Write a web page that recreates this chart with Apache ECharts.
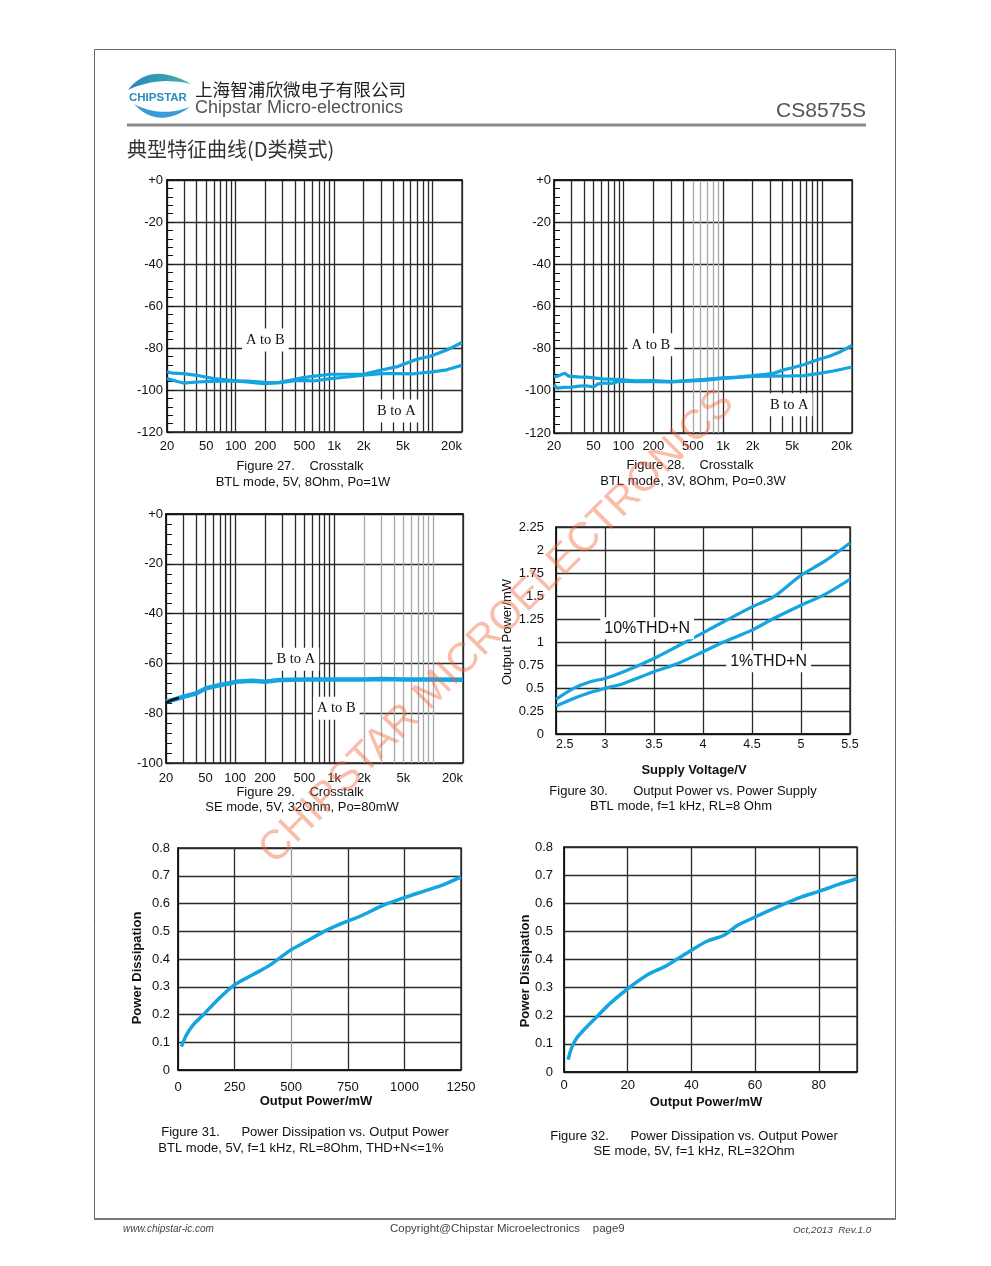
<!DOCTYPE html>
<html>
<head>
<meta charset="utf-8">
<script src="https://cdn.jsdelivr.net/npm/echarts@6/dist/echarts.min.js"></script>
<style>
html,body{margin:0;padding:0;background:#fff;}
#page{width:991px;height:1266px;}
</style>
</head>
<body>
<div id="page"></div>
<script>
// ---------- tick values ----------
const freqGrid = [20,30,40,50,60,70,80,90,100,200,300,400,500,600,700,800,900,1000,2000,3000,4000,5000,6000,7000,8000,9000,10000,20000];
const freqLabels = [20,50,100,200,500,1000,2000,5000,20000];

// ---------- Figure 27: Crosstalk, BTL 5V 8Ohm Po=1W ----------
const f27AtoB_f  = [20,23,29.5,40,60,88,130,192,262,357,485,666,915,1360,2000,2950,4300,6440,7500,9520,14000,20000];
const f27AtoB_db = [-91.4,-92,-92.2,-93,-94.6,-95.4,-96.2,-97,-96.6,-95.4,-94.1,-93.3,-92.5,-92.5,-92.5,-90.6,-89,-85.9,-85,-83.9,-81,-77.4];
const f27BtoA_f  = [20,25,29.5,40,60,88,130,200,283,420,620,915,1360,2000,3000,4300,6400,8000,9500,14000,20000];
const f27BtoA_db = [-94.6,-95.8,-96.7,-96.2,-95.9,-95.7,-95.8,-96.3,-96.5,-95.4,-95.7,-94.6,-93.8,-92.9,-92.2,-92.2,-92.3,-91.8,-91.5,-90.4,-88.2];

// ---------- Figure 28: Crosstalk, BTL 3V 8Ohm Po=0.3W ----------
const f28AtoB_f  = [20,22,25.6,28,35,42,62.5,92,130,200,300,437,650,935,1400,2000,2700,3300,4000,4900,6500,9000,12000,15500,20000];
const f28AtoB_db = [-93.2,-93,-91.6,-93,-93.4,-93.5,-94.3,-94.7,-95.3,-95.2,-95.6,-95.2,-94.6,-94,-93.5,-92.8,-92.2,-91.6,-90.2,-89.2,-87.6,-85.3,-83.5,-81.3,-78.5];
const f28BtoA_f  = [20,21.5,25,30,36,42,50,55,62.5,75,92,130,200,300,437,650,935,1400,2000,3000,4900,6500,9000,13000,20000];
const f28BtoA_db = [-97.1,-98.7,-98.4,-98.2,-97.8,-97.6,-98.2,-96.8,-96.3,-96.5,-95.4,-95.6,-95.6,-95.8,-95.4,-95,-94.2,-93.6,-93.2,-93,-92.9,-92.8,-91.8,-90.6,-88.7];

// ---------- Figure 29: Crosstalk, SE 5V 32Ohm Po=80mW ----------
const f29BtoA_f  = [20,25,30,40,51,65,88,100,150,200,280,500,1000,2000,3000,4000,5000,10000,20000];
const f29BtoA_db = [-75.4,-74.4,-73.4,-72.1,-70,-69,-68,-67.4,-67,-67.4,-66.7,-66.5,-66.5,-66.5,-66.3,-66.4,-66.5,-66.5,-66.6];
const f29AtoB_f  = [20,23,27];
const f29AtoB_db = [-75.8,-74.7,-73.8];

// ---------- Figure 30: Output Power vs Supply ----------
const f30Volt10 = [2.5,2.68,2.85,3.0,3.19,3.5,3.73,4.0,4.21,4.5,4.72,5.0,5.23,5.5];
const f30Thd10  = [0.376,0.496,0.568,0.604,0.677,0.821,0.948,1.10,1.22,1.382,1.49,1.726,1.87,2.077];
const f30Volt1  = [2.5,2.68,2.82,3.0,3.19,3.5,3.73,4.0,4.21,4.5,4.72,5.0,5.23,5.5];
const f30Thd1   = [0.304,0.387,0.441,0.496,0.55,0.677,0.76,0.894,1.0,1.129,1.255,1.40,1.509,1.682];

// ---------- Figure 31: Power Dissipation vs Output Power (BTL) ----------
const f31Pout = [15,37,66,111,170,248,332,406,497,568,657,747,804,908,996,1100,1173,1250];
const f31Pd   = [0.084,0.126,0.162,0.198,0.249,0.306,0.344,0.378,0.432,0.464,0.504,0.536,0.554,0.594,0.62,0.648,0.668,0.696];

// ---------- Figure 32: Power Dissipation vs Output Power (SE) ----------
const f32Pout = [1.3,2.3,3.9,7.1,10.7,14.4,20,26,32.3,40,44.9,50.2,54.4,60,67,74.4,80,86,91.8];
const f32Pd   = [0.044,0.083,0.119,0.16,0.201,0.243,0.296,0.344,0.379,0.433,0.465,0.486,0.521,0.551,0.587,0.622,0.642,0.666,0.687];

// ---------- styling ----------
const SANS = '"Liberation Sans", Arial, sans-serif';
const SERIF = '"Liberation Serif", "Times New Roman", serif';
const CJK = '"Noto Sans CJK SC", sans-serif';
const BLUE = '#14a4df';
const GC = '#2a2a2a';
const LIGHT = '#a8a8a8';

function pairs(xs, ys){ return xs.map((x,i)=>[x, ys[i]]); }
function fmtFreq(v){ const r = Math.round(v); return r >= 1000 ? (r/1000)+'k' : String(r); }
function plain(v){ return String(v); }

function gridColors(lightIdx){
  return freqGrid.map((f,i)=> lightIdx.indexOf(i) >= 0 ? LIGHT : GC);
}

function logX(gi, colors, margin){
  return {
    type:'log', logBase:10, gridIndex:gi, min:20, max:20000,
    axisLine:{show:true, lineStyle:{color:'#111', width:1.5}},
    axisTick:{show:false, customValues:freqGrid},
    minorTick:{show:false}, minorSplitLine:{show:false},
    axisLabel:{customValues:freqLabels, formatter:fmtFreq, margin:margin, color:'#111',
      fontSize:13, fontFamily:SANS, alignMaxLabel:'right'},
    splitLine:{show:true, lineStyle:{color:colors, width:1.3}}
  };
}
function dbY(gi, min, margin){
  return {
    type:'value', gridIndex:gi, min:min, max:0, interval:20,
    axisLine:{show:true, lineStyle:{color:'#111', width:1.5}},
    axisTick:{show:true, inside:true, length:6, lineStyle:{color:'#111', width:1}},
    minorTick:{show:true, splitNumber:5, length:6, lineStyle:{color:'#111', width:1}},
    axisLabel:{formatter:(v)=> v===0 ? '+0' : String(v), margin:margin, color:'#111', fontSize:13, fontFamily:SANS},
    splitLine:{show:true, lineStyle:{color:GC, width:1.3}}
  };
}
function valAxis(gi, min, max, interval, margin, extra){
  return Object.assign({
    type:'value', gridIndex:gi, min:min, max:max, interval:interval,
    axisLine:{show:true, lineStyle:{color:'#111', width:1.5}},
    axisTick:{show:false},
    axisLabel:{margin:margin, color:'#111', fontSize:13, fontFamily:SANS, formatter:plain},
    splitLine:{show:true, lineStyle:{color:GC, width:1.3}}
  }, extra || {});
}
function tag(text, coord, serif){
  return {
    coord: coord, symbol:'rect', symbolSize:1, itemStyle:{color:'rgba(0,0,0,0)'},
    label:{show:true, position:'inside', formatter:text, color:'#111',
      fontFamily: serif ? SERIF : SANS, fontSize: serif ? 14.5 : 16,
      backgroundColor:'#fff', padding: serif ? [4,4] : [3,4]}
  };
}
function line(xi, data, color, width, smooth, marks){
  const s = {
    type:'line', xAxisIndex:xi, yAxisIndex:xi, data:data, showSymbol:false, symbol:'none',
    smooth: smooth, lineStyle:{color:color, width:width}, itemStyle:{color:color}, z:3
  };
  if (marks) s.markPoint = {data:marks, silent:true, z:4};
  return s;
}

const option = {
  animation:false,
  backgroundColor:'#fff',
  grid:[
    {left:167, top:180, width:295, height:252},
    {left:554, top:180, width:298, height:253},
    {left:166, top:514, width:297, height:249},
    {left:556, top:527, width:294, height:207},
    {left:178, top:848, width:283, height:222},
    {left:564, top:847, width:293, height:225}
  ].map(g => Object.assign({show:true, borderColor:'#1a1a1a', borderWidth:1.3, backgroundColor:'transparent', containLabel:false}, g)),
  xAxis:[
    logX(0, gridColors([]), 8),
    logX(1, gridColors([12,13,14,15,16]), 7),
    logX(2, gridColors([18,19,20,21,22,23,24,25,26]), 9),
    valAxis(3, 2.5, 5.5, 0.5, 4, {axisLabel:{margin:4, color:'#111', fontSize:12.5, fontFamily:SANS, formatter:plain, alignMinLabel:'left'}}),
    valAxis(4, 0, 1250, 250, 11, {splitLine:{show:true, lineStyle:{color:[GC,GC,'#9a9a9a',GC,GC,GC], width:1.3}}}),
    valAxis(5, 0, 92, 20, 7, {axisLabel:{margin:7, color:'#111', fontSize:13, fontFamily:SANS, formatter:plain, showMaxLabel:false}})
  ],
  yAxis:[
    dbY(0, -120, 4),
    dbY(1, -120, 3),
    dbY(2, -100, 3),
    valAxis(3, 0, 2.25, 0.25, 12),
    valAxis(4, 0, 0.8, 0.1, 8),
    valAxis(5, 0, 0.8, 0.1, 11)
  ],
  series:[
    line(0, pairs(f27AtoB_f, f27AtoB_db), BLUE, 3.2, false, [tag('A to B', [200, -76.2], true)]),
    line(0, pairs(f27BtoA_f, f27BtoA_db), BLUE, 3.2, false, [tag('B to A', [4300, -110], true)]),
    line(1, pairs(f28AtoB_f, f28AtoB_db), BLUE, 3.2, false, [tag('A to B', [189, -78.2], true)]),
    line(1, pairs(f28BtoA_f, f28BtoA_db), BLUE, 3.2, false, [tag('B to A', [4670, -106.6], true)]),
    line(2, pairs(f29BtoA_f, f29BtoA_db), BLUE, 4.5, false, [tag('B to A', [410, -58.3], true), tag('A to B', [1050, -78], true)]),
    Object.assign(line(2, pairs(f29AtoB_f, f29AtoB_db), '#111', 2.5, false), {z:5}),
    line(3, pairs(f30Volt10, f30Thd10), BLUE, 3.2, 0.3, [tag('10%THD+N', [3.43, 1.15], false)]),
    line(3, pairs(f30Volt1, f30Thd1), BLUE, 3.2, 0.3, [tag('1%THD+N', [4.67, 0.79], false)]),
    line(4, pairs(f31Pout, f31Pd), BLUE, 3.5, 0.3),
    line(5, pairs(f32Pout, f32Pd), BLUE, 3.5, 0.3)
  ],
  graphic:{elements:[]}
};

// ---------- page furniture ----------
const G = option.graphic.elements;
function txt(text, x, y, o){
  o = o || {};
  G.push({
    type:'text', x:x, y:y, rotation:o.rotation || 0, z:o.z || 10, silent:true,
    style:{text:text, fill:o.fill || '#111', fontSize:o.size || 13, fontFamily:o.family || SANS,
      fontWeight:o.weight || 'normal', fontStyle:o.style || 'normal',
      align:o.align || 'center', verticalAlign:'middle',
      textAlign:o.align || 'center', textVerticalAlign:'middle'}
  });
}
// crescent outline from two quadratic curves (logo decoration)
function crescent(p0, c1, p1, c2){
  const pts = [];
  const N = 16;
  for (let i=0;i<=N;i++){ const t=i/N, u=1-t;
    pts.push([u*u*p0[0]+2*u*t*c1[0]+t*t*p1[0], u*u*p0[1]+2*u*t*c1[1]+t*t*p1[1]]); }
  for (let i=1;i<N;i++){ const t=i/N, u=1-t;
    pts.push([u*u*p1[0]+2*u*t*c2[0]+t*t*p0[0], u*u*p1[1]+2*u*t*c2[1]+t*t*p0[1]]); }
  return pts;
}
// border
G.push({type:'rect', silent:true, z:1, shape:{x:94.5, y:49.5, width:801, height:1169.5}, style:{fill:'none', stroke:'#666', lineWidth:1}});
G.push({type:'line', silent:true, z:1, shape:{x1:94, y1:1219, x2:896, y2:1219}, style:{stroke:'#666', lineWidth:1.6}});
// header rule
G.push({type:'line', silent:true, z:1, shape:{x1:127, y1:125, x2:866, y2:125}, style:{stroke:'#8a8a8e', lineWidth:3}});
// logo swooshes
G.push({type:'polygon', silent:true, z:10, shape:{points:crescent([128,90],[150,61],[191,84],[157,76])},
  style:{fill:new echarts.graphic.LinearGradient(0,0,1,0,[{offset:0,color:'#2a83c4'},{offset:1,color:'#3db3a3'}])}});
G.push({type:'polygon', silent:true, z:10, shape:{points:crescent([134,104],[158,130],[190,107],[160,118])},
  style:{fill:'#3a9bd6'}});
txt('CHIPSTAR', 129, 98, {align:'left', size:11.5, weight:'bold', fill:'#2a8cc0'});
txt('上海智浦欣微电子有限公司', 195, 89, {align:'left', size:17.6, family:CJK, fill:'#222'});
txt('Chipstar Micro-electronics', 195, 108, {align:'left', size:18, fill:'#555'});
txt('CS8575S', 866, 111, {align:'right', size:21, fill:'#555'});
txt('典型特征曲线(D类模式)', 127, 149, {align:'left', size:20, family:CJK, fill:'#333'});

// captions
txt('Figure 27.    Crosstalk', 300, 466);
txt('BTL mode, 5V, 8Ohm, Po=1W', 303, 482);
txt('Figure 28.    Crosstalk', 690, 465);
txt('BTL mode, 3V, 8Ohm, Po=0.3W', 693, 481);
txt('Figure 29.    Crosstalk', 300, 792);
txt('SE mode, 5V, 32Ohm, Po=80mW', 302, 807);
txt('Figure 30.       Output Power vs. Power Supply', 683, 791);
txt('BTL mode, f=1 kHz, RL=8 Ohm', 681, 806);
txt('Figure 31.      Power Dissipation vs. Output Power', 305, 1132);
txt('BTL mode, 5V, f=1 kHz, RL=8Ohm, THD+N<=1%', 301, 1148);
txt('Figure 32.      Power Dissipation vs. Output Power', 694, 1136);
txt('SE mode, 5V, f=1 kHz, RL=32Ohm', 694, 1151);

// axis titles
txt('Output Power/mW', 507, 632, {rotation:Math.PI/2, size:13});
txt('Supply Voltage/V', 694, 770, {size:13, weight:'bold'});
txt('Power Dissipation', 137, 968, {rotation:Math.PI/2, size:13, weight:'bold'});
txt('Output Power/mW', 316, 1101, {size:13, weight:'bold'});
txt('Power Dissipation', 525, 971, {rotation:Math.PI/2, size:13, weight:'bold'});
txt('Output Power/mW', 706, 1102, {size:13, weight:'bold'});

// footer
txt('www.chipstar-ic.com', 123, 1229, {align:'left', size:10, style:'italic', fill:'#444'});
txt('Copyright@Chipstar Microelectronics    page9', 390, 1229, {align:'left', size:11.5, fill:'#444'});
txt('Oct,2013  Rev.1.0', 793, 1230, {align:'left', size:9.8, style:'italic', fill:'#444'});

// watermark
txt('CHIPSTAR MICROELECTRONICS', 497, 627, {rotation:Math.PI/4, size:41.5, fill:'rgba(240,100,50,0.42)', z:100});

const chart = echarts.init(document.getElementById('page'), null, {renderer:'canvas', width:991, height:1266});
chart.setOption(option);
</script>
</body>
</html>
